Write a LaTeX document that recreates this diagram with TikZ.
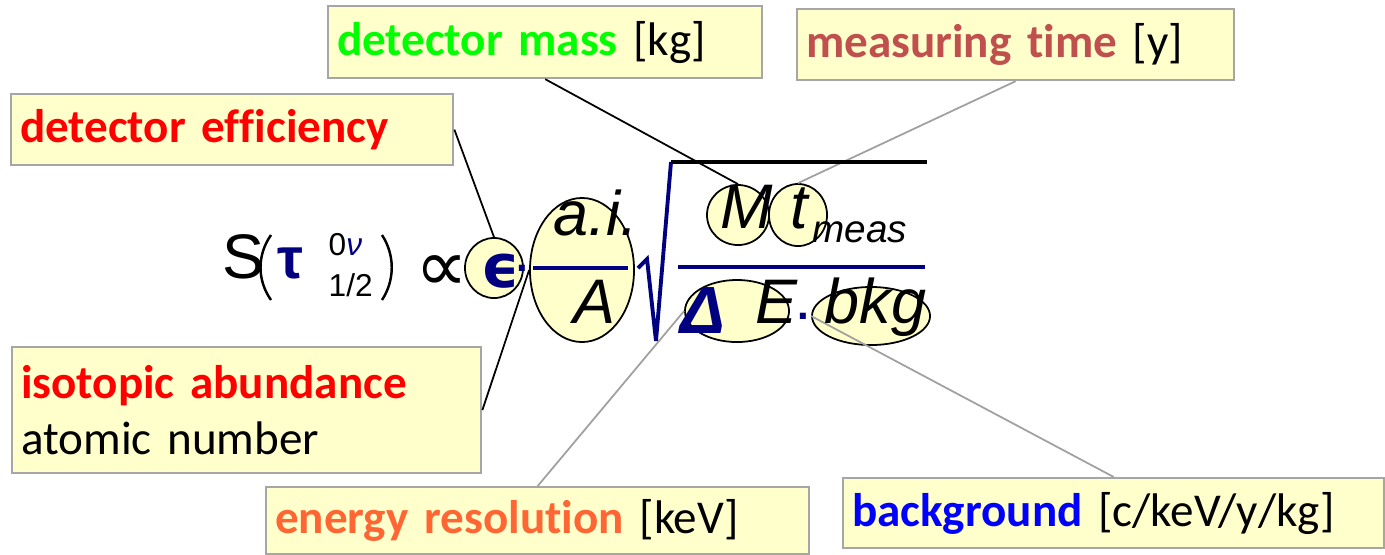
\documentclass[tikz,border=0pt]{standalone}
\usepackage{fontspec}
\usepackage{xcolor}
\usepackage{tikz}
\usetikzlibrary{shapes.geometric}

\newfontfamily\lblfont[Ligatures=NoCommon]{Carlito}
\newfontfamily\eqfont{Liberation Sans}
\newfontfamily\dvfont{DejaVu Sans}

\definecolor{boxfill}{HTML}{FFFFCC}
\definecolor{boxgray}{HTML}{A6A6A6}
\definecolor{linegray}{HTML}{A0A0A0}
\definecolor{navy}{HTML}{000080}
\definecolor{massgreen}{HTML}{00FF00}
\definecolor{timered}{HTML}{C0504D}
\definecolor{effred}{HTML}{FF0000}
\definecolor{resorange}{HTML}{FF6633}
\definecolor{bkgblue}{HTML}{0000FF}

\begin{document}
\begin{tikzpicture}[
  x=0.01cm, y=-0.01cm,
  lbl/.style={draw=boxgray, fill=boxfill, line width=0.6pt, anchor=north west,
    align=left, inner xsep=0.09cm, inner ysep=0pt,
    font=\lblfont\fontsize{13.4}{16}\selectfont},
  hl/.style={ellipse, draw, fill=boxfill, line width=0.5pt, inner sep=0pt},
  eq/.style={anchor=base west, inner sep=0pt, font=\eqfont\itshape\fontsize{17.9}{18}\selectfont},
  equp/.style={anchor=base west, inner sep=0pt, font=\eqfont\fontsize{17.9}{18}\selectfont},
  eqsmall/.style={anchor=base west, inner sep=0pt, font=\eqfont\fontsize{9}{9}\selectfont},
  cline/.style={line width=0.5pt},
  gline/.style={line width=0.5pt, draw=linegray}
]
\useasboundingbox (0,0) rectangle (1385,554);

% Label boxes
\node[lbl, text width=4.16cm, minimum height=0.72cm] (mass) at (327,5)
  {\textcolor{massgreen}{\bfseries detector mass} [kg]};
\node[lbl, text width=4.19cm, minimum height=0.71cm] (meas) at (796,8)
  {\textcolor{timered}{\bfseries measuring time} [y]};
\node[lbl, text width=4.24cm, minimum height=0.71cm] (eff) at (10,93)
  {\textcolor{effred}{\bfseries detector efficiency}};
\node[lbl, text width=4.51cm, minimum height=1.26cm] (iso) at (11,346)
  {\textcolor{effred}{\bfseries isotopic abundance}\\atomic number};
\node[lbl, text width=5.25cm, minimum height=0.67cm] (eres) at (265,486)
  {\textcolor{resorange}{\bfseries energy resolution} [keV]};
\node[lbl, text width=5.23cm, minimum height=0.70cm] (bkg) at (842,477)
  {\textcolor{bkgblue}{\bfseries background} [c/keV/y/kg]};

% Highlight ellipses
\node[hl, minimum width=0.58cm, minimum height=0.60cm] (epsE) at (494,268) {};
\node[hl, minimum width=1.04cm, minimum height=1.44cm] (aiE) at (582,270) {};
\node[hl, minimum width=0.62cm, minimum height=0.60cm] (mE) at (738,215) {};
\node[hl, minimum width=0.58cm, minimum height=0.62cm] (tE) at (798,215) {};
\node[hl, minimum width=1.04cm, minimum height=0.62cm] (dE) at (737,311) {};
\node[hl, minimum width=1.18cm, minimum height=0.58cm] (bkgE) at (871,316) {};

% Pointers
\draw[cline] (mass.south) -- (mE.north);
\draw[gline] (meas.south) -- (tE.north);
\draw[cline] (eff.east) -- (epsE.north);
\draw[cline] (iso.east) -- (aiE.west);
\draw[gline] (eres.north) -- (dE.west);
\draw[gline] (bkg.north) -- (bkgE.west);

% Formula
\node[equp] (S) at (222,278) {S};
\draw[line width=0.7pt] (271,235) .. controls (257,255) and (257,280) .. (271,300);
\node[anchor=base west, inner sep=0pt, text=navy, font=\eqfont\bfseries\fontsize{16.5}{16}\selectfont] (tau) at (277,278) {τ};
\node[eqsmall, align=left, font=\eqfont\fontsize{9}{12}\selectfont] (idx) at (328,296)
  {0\textcolor{navy}{\itshape ν}\\[-0.5pt]1/2};
\draw[line width=0.7pt] (382,235) .. controls (395,255) and (395,280) .. (382,300);
\node[anchor=base west, inner sep=0pt, font=\dvfont\fontsize{21}{21}\selectfont] (prop) at (415,291) {∝};
\node[anchor=base west, inner sep=0pt, text=navy, font=\dvfont\bfseries\fontsize{17}{17}\selectfont] (eps) at (481,287) {ϵ};
\node[anchor=base west, inner sep=0pt, text=navy, font=\eqfont\bfseries\fontsize{12}{12}\selectfont] (dotA) at (516,271) {.};
\node[eq] (ai) at (553,235) {a.i.};
\node[eq] (A) at (573,323) {A};
\draw[navy, line width=1.4pt] (533,268) -- (628,268);
\draw[navy, line width=1.1pt] (638,268) -- (647,259) -- (656,341) -- (671,162);
\draw[line width=1.2pt] (671,162) -- (927,162);
\draw[navy, line width=1.4pt] (678,267) -- (925,267);
\node[eq] (M) at (720,228) {M};
\node[eq] (t) at (790,228) {t};
\node[eq, font=\eqfont\itshape\fontsize{11}{11}\selectfont] (sub) at (812,242) {meas};
\node[anchor=base west, inner sep=0pt, text=navy, font=\eqfont\bfseries\itshape\fontsize{19}{19}\selectfont] (Delta) at (680,333) {Δ};
\node[eq] (E) at (755,323) {E};
\node[anchor=base west, inner sep=0pt, text=navy, font=\eqfont\bfseries\fontsize{12}{12}\selectfont] (dotB) at (797,319) {.};
\node[eq] (bk) at (824,323) {bkg};

\end{tikzpicture}
\end{document}
